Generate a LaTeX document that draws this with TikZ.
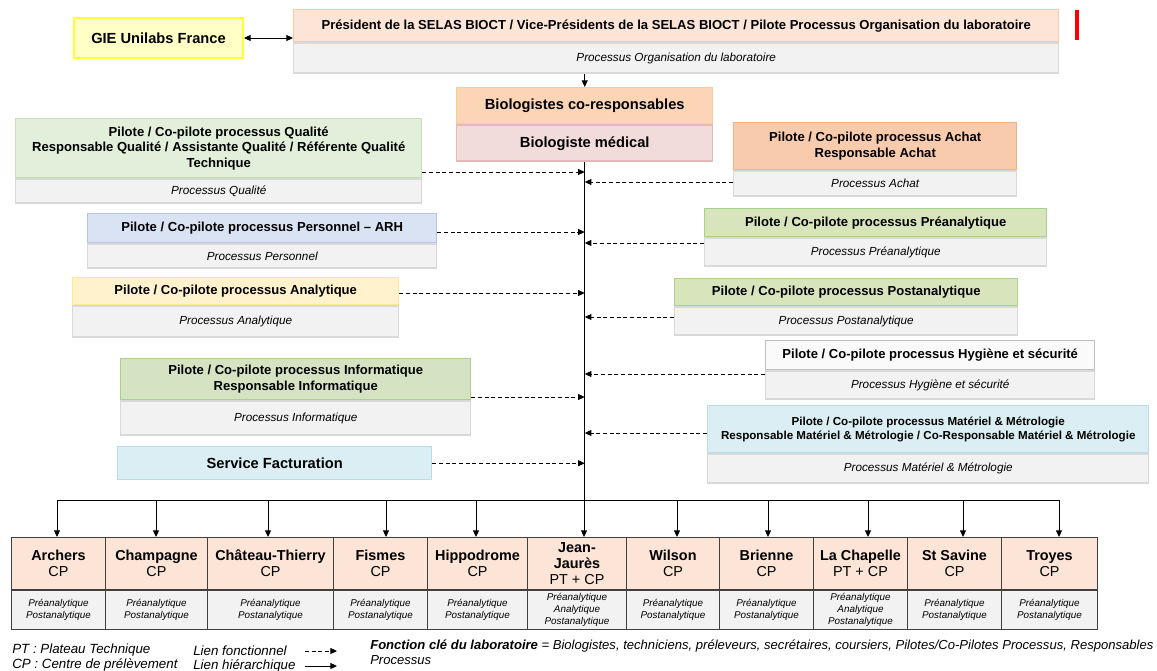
\documentclass[tikz,border=0pt]{standalone}
\usepackage{fontspec}
\setmainfont{Liberation Sans}
\usepackage{tikz}
\usetikzlibrary{positioning,arrows.meta,calc}
\definecolor{orghead}{HTML}{FCE4D6}
\definecolor{orgline}{HTML}{F8CBAD}
\definecolor{subfill}{HTML}{F2F2F2}
\definecolor{subline}{HTML}{D9D9D9}
\definecolor{giefill}{HTML}{FFFFC6}
\definecolor{gieline}{HTML}{FFFF33}
\definecolor{biocofill}{HTML}{FBD5B5}
\definecolor{biocoline}{HTML}{F9CB9C}
\definecolor{biomedfill}{HTML}{F2DCDB}
\definecolor{biomedline}{HTML}{E6B9B8}
\definecolor{qualfill}{HTML}{E2EFDA}
\definecolor{qualline}{HTML}{C5E0B4}
\definecolor{persfill}{HTML}{DAE3F3}
\definecolor{persline}{HTML}{B4C7E7}
\definecolor{analyfill}{HTML}{FFF2CC}
\definecolor{analyline}{HTML}{FFE699}
\definecolor{infofill}{HTML}{D5E3C3}
\definecolor{infoline}{HTML}{A9D18E}
\definecolor{bluefill}{HTML}{DAEEF3}
\definecolor{blueline}{HTML}{B7DEE8}
\definecolor{achatfill}{HTML}{F8CBAD}
\definecolor{achatline}{HTML}{F4B183}
\definecolor{olivefill}{HTML}{D8E4BC}
\definecolor{oliveline}{HTML}{A9D18E}
\definecolor{hygfill}{HTML}{FAFAFA}
\definecolor{hygline}{HTML}{BFBFBF}
\definecolor{sitefill}{HTML}{FCE4D6}
\definecolor{siteline}{HTML}{404040}
\definecolor{markred}{HTML}{FF0000}

\begin{document}
\begin{tikzpicture}[
    x=0.75pt, y=-0.75pt,
    wd/.style={minimum width=(#1)*0.75pt},
    ht/.style={minimum height=(#1)*0.75pt},
    headbox/.style 2 args={
        rectangle, draw=#2, line width=1.1pt, fill=#1,
        inner sep=1.5pt, align=center, anchor=north west,
        font=\fontsize{9.8}{11.6}\selectfont\bfseries
    },
    bigbox/.style 2 args={headbox={#1}{#2}, font=\fontsize{11}{13}\selectfont\bfseries},
    subbox/.style={
        rectangle, draw=subline, line width=1.1pt, fill=subfill,
        inner sep=1.5pt, align=center,
        font=\fontsize{8.8}{10.5}\selectfont\itshape
    },
    sitebox/.style={
        rectangle, draw=siteline, line width=0.75pt, fill=sitefill,
        inner sep=1pt, align=center, anchor=north west, ht=52,
        font=\fontsize{10.8}{12.2}\selectfont
    },
    sitesub/.style={
        rectangle, draw=siteline, line width=0.75pt, fill=subfill,
        inner sep=0.5pt, align=center, ht=39,
        font=\fontsize{7.4}{8.8}\selectfont\itshape
    },
    hierflow/.style={draw=black, line width=0.75pt, -{Triangle[length=5pt,width=4.5pt]}},
    funcflow/.style={draw=black, line width=0.75pt, dash pattern=on 3pt off 2pt, -{Triangle[length=5pt,width=4.5pt]}},
    keytext/.style={font=\fontsize{10}{12}\selectfont\itshape, inner sep=0pt, anchor=west}
]
    \fill[white] (0,0) rectangle (1157,671);
    \useasboundingbox (0,0) rectangle (1157,671);

    % direction
    \node[bigbox={giefill}{gieline}, line width=1.5pt, wd=169, ht=40] (gie) at (73,17) {GIE Unilabs France};
    \node[headbox={orghead}{orgline}, wd=765, ht=32] (pres) at (293,9) {Président de la SELAS BIOCT / Vice-Présidents de la SELAS BIOCT / Pilote Processus Organisation du laboratoire};
    \node[subbox, wd=765, ht=30, below=0pt of pres] (pressub) {Processus Organisation du laboratoire};
    \draw[markred, line width=2.4pt] (1077,10) -- (1077,40);

    \node[bigbox={biocofill}{biocoline}, wd=256, ht=36] (bioco) at (456,87) {Biologistes co-responsables};
    \node[bigbox={biomedfill}{biomedline}, wd=256, ht=36, below=0pt of bioco] (biomed) {Biologiste médical};

    % processus gauche
    \node[headbox={qualfill}{qualline}, wd=406, ht=59] (qual) at (15,118) {Pilote / Co-pilote processus Qualité\\Responsable Qualité / Assistante Qualité / Référente Qualité\\Technique};
    \node[subbox, wd=406, ht=24, below=0pt of qual] (qualsub) {Processus Qualité};
    \node[headbox={persfill}{persline}, wd=349, ht=29] (pers) at (87,213) {Pilote / Co-pilote processus Personnel – ARH};
    \node[subbox, wd=349, ht=24, below=0pt of pers] (perssub) {Processus Personnel};
    \node[headbox={analyfill}{analyline}, wd=326, ht=27] (analy) at (72,277) {Pilote / Co-pilote processus Analytique};
    \node[subbox, wd=326, ht=31, below=0pt of analy] (analysub) {Processus Analytique};
    \node[headbox={infofill}{infoline}, wd=350, ht=41] (info) at (120,358) {Pilote / Co-pilote processus Informatique\\Responsable Informatique};
    \node[subbox, wd=350, ht=34, below=0pt of info] (infosub) {Processus Informatique};
    \node[bigbox={bluefill}{blueline}, wd=314, ht=33] (fact) at (117,446) {Service Facturation};

    % processus droite
    \node[headbox={achatfill}{achatline}, wd=283, ht=47] (achat) at (733,122) {Pilote / Co-pilote processus Achat\\Responsable Achat};
    \node[subbox, wd=283, ht=25, below=0pt of achat] (achatsub) {Processus Achat};
    \node[headbox={olivefill}{oliveline}, wd=342, ht=28] (preana) at (704,208) {Pilote / Co-pilote processus Préanalytique};
    \node[subbox, wd=342, ht=28, below=0pt of preana] (preanasub) {Processus Préanalytique};
    \node[headbox={olivefill}{oliveline}, wd=343, ht=27] (postana) at (674,278) {Pilote / Co-pilote processus Postanalytique};
    \node[subbox, wd=343, ht=28, below=0pt of postana] (postanasub) {Processus Postanalytique};
    \node[headbox={hygfill}{hygline}, wd=329, ht=29] (hyg) at (765,340) {Pilote / Co-pilote processus Hygiène et sécurité};
    \node[subbox, wd=329, ht=28, below=0pt of hyg] (hygsub) {Processus Hygiène et sécurité};
    \node[headbox={bluefill}{blueline}, wd=441, ht=47, font=\fontsize{8.7}{10.8}\selectfont\bfseries] (mat) at (707,405) {Pilote / Co-pilote processus Matériel \& Métrologie\\Responsable Matériel \& Métrologie / Co-Responsable Matériel \& Métrologie};
    \node[subbox, wd=441, ht=29, below=0pt of mat] (matsub) {Processus Matériel \& Métrologie};

    % liens
    \coordinate (bus) at (biomed.south |- 0,500);
    \draw[line width=0.75pt, {Triangle[length=5pt,width=4.5pt]}-{Triangle[length=5pt,width=4.5pt]}] (gie.east) -- (gie.east -| pres.west);
    \draw[hierflow] (bioco.north |- pressub.south) -- (bioco.north);
    \draw[line width=0.75pt] (biomed.south) -- (bus);

    \draw[funcflow] (qual.east |- 0,172) -- (bus |- 0,172);
    \draw[funcflow] (pers.east |- 0,232) -- (bus |- 0,232);
    \draw[funcflow] (analy.east |- 0,293) -- (bus |- 0,293);
    \draw[funcflow] (info.east |- 0,397) -- (bus |- 0,397);
    \draw[funcflow] (fact.east) -- (fact.east -| bus);
    \draw[funcflow] (achatsub.west |- 0,182) -- (bus |- 0,182);
    \draw[funcflow] (preana.west |- 0,243) -- (bus |- 0,243);
    \draw[funcflow] (postana.west |- 0,317) -- (bus |- 0,317);
    \draw[funcflow] (hyg.west |- 0,374) -- (bus |- 0,374);
    \draw[funcflow] (mat.west |- 0,433) -- (bus |- 0,433);

    % sites
    \foreach \xl/\xr/\ax/\name/\acts [count=\i] in {
        11/105/57/{\textbf{Archers}\\CP}/{Préanalytique\\Postanalytique},
        105/207/156/{\textbf{Champagne}\\CP}/{Préanalytique\\Postanalytique},
        207/333/268/{\textbf{Château-Thierry}\\CP}/{Préanalytique\\Postanalytique},
        333/427/386/{\textbf{Fismes}\\CP}/{Préanalytique\\Postanalytique},
        427/527/476/{\textbf{Hippodrome}\\CP}/{Préanalytique\\Postanalytique},
        527/626/584/{\textbf{Jean-}\\\textbf{Jaurès}\\PT + CP}/{Préanalytique\\Analytique\\Postanalytique},
        626/719/677/{\textbf{Wilson}\\CP}/{Préanalytique\\Postanalytique},
        719/813/768/{\textbf{Brienne}\\CP}/{Préanalytique\\Postanalytique},
        813/907/868/{\textbf{La Chapelle}\\PT + CP}/{Préanalytique\\Analytique\\Postanalytique},
        907/1001/963/{\textbf{St Savine}\\CP}/{Préanalytique\\Postanalytique},
        1001/1097/1059/{\textbf{Troyes}\\CP}/{Préanalytique\\Postanalytique}}{
        \node[sitebox, wd=\xr-\xl] (site\i) at (\xl,537) {\name};
        \node[sitesub, wd=\xr-\xl, below=0pt of site\i] (sitesub\i) {\acts};
        \coordinate (drop\i) at (\ax,500);
        \draw[hierflow] (drop\i) -- (drop\i |- site\i.north);
    }
    \draw[line width=0.75pt] (drop1) -- (drop11);

    % legende
    \node[keytext] (ptkey) at (12,650) {PT : Plateau Technique};
    \node[keytext] (cpkey) at (12,665) {CP : Centre de prélèvement};
    \node[keytext] (funckey) at (193,651) {Lien fonctionnel};
    \node[keytext] (hierkey) at (193,666) {Lien hiérarchique};
    \coordinate (funcstart) at (305,651);
    \coordinate (funcend) at (337,651);
    \coordinate (hierstart) at (305,666);
    \coordinate (hierend) at (337,666);
    \draw[funcflow] (funcstart) -- (funcend);
    \draw[hierflow] (hierstart) -- (hierend);
    \node[anchor=north west, inner sep=0pt, align=left, font=\fontsize{9.8}{10.8}\selectfont\itshape] (keyfn) at (370,640) {\textbf{Fonction clé du laboratoire} = Biologistes, techniciens, préleveurs, secrétaires, coursiers, Pilotes/Co-Pilotes Processus, Responsables\\Processus};
\end{tikzpicture}
\end{document}
